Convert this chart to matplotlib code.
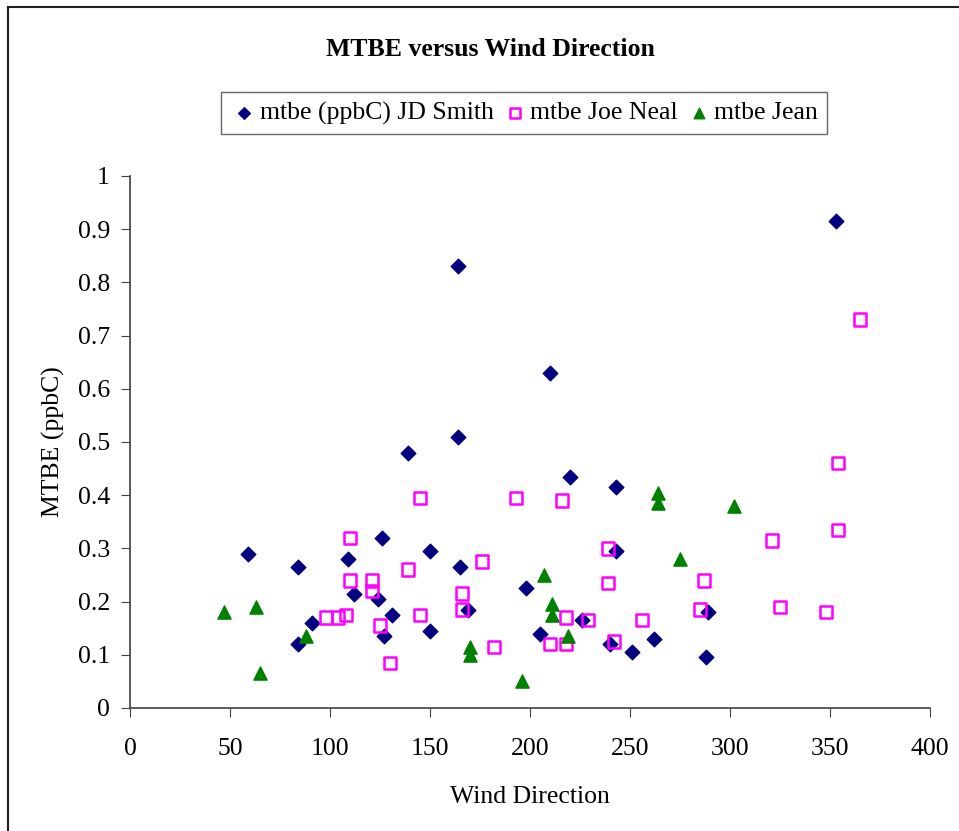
import numpy as np
import matplotlib
matplotlib.use('Agg')
import matplotlib.pyplot as plt
from matplotlib.lines import Line2D

# data
smith_dir = [59, 84, 84, 91, 109, 112, 124, 126, 127, 131, 139, 150, 150, 164, 164,
             165, 169, 198, 205, 210, 220, 226, 240, 243, 243, 251, 262, 288, 289, 353]
smith_mtbe = [0.29, 0.265, 0.12, 0.16, 0.28, 0.215, 0.205, 0.32, 0.135, 0.175, 0.48, 0.295, 0.145, 0.83, 0.51,
              0.265, 0.185, 0.225, 0.14, 0.63, 0.435, 0.165, 0.12, 0.415, 0.295, 0.105, 0.13, 0.095, 0.18, 0.915]

neal_dir = [98, 104, 108, 110, 110, 121, 121, 125, 130, 139, 145, 145, 166, 166, 176, 182, 193,
            210, 216, 218, 218, 229, 239, 239, 242, 256, 285, 287, 321, 325, 348, 354, 354, 365]
neal_mtbe = [0.17, 0.17, 0.175, 0.32, 0.24, 0.24, 0.22, 0.155, 0.085, 0.26, 0.395, 0.175, 0.215, 0.185, 0.275, 0.115, 0.395,
             0.12, 0.39, 0.17, 0.12, 0.165, 0.30, 0.235, 0.125, 0.165, 0.185, 0.24, 0.315, 0.19, 0.18, 0.46, 0.335, 0.73]

jean_dir = [47, 63, 65, 88, 170, 170, 196, 207, 211, 211, 219, 264, 264, 275, 302]
jean_mtbe = [0.18, 0.19, 0.065, 0.135, 0.115, 0.10, 0.05, 0.25, 0.195, 0.175, 0.135, 0.405, 0.385, 0.28, 0.38]

x_ticks = np.arange(0, 401, 50)
y_ticks = np.arange(0, 1.01, 0.1)
y_labels = ['0', '0.1', '0.2', '0.3', '0.4', '0.5', '0.6', '0.7', '0.8', '0.9', '1']

plt.rcParams['font.family'] = ['Liberation Serif', 'DejaVu Serif']

fig = plt.figure(figsize=(9.59, 8.31), dpi=100)
ax = fig.add_axes([130 / 959, 1 - 708 / 831, 800 / 959, 532 / 831])

ax.scatter(smith_dir, smith_mtbe, marker='D', s=55, color='#000080', label='mtbe (ppbC) JD Smith', zorder=3)
ax.scatter(neal_dir, neal_mtbe, marker='s', s=80, facecolors='none', edgecolors='#FF00FF', linewidths=1.8,
           label='mtbe Joe Neal', zorder=3)
ax.scatter(jean_dir, jean_mtbe, marker='^', s=90, color='#008000', label='mtbe Jean', zorder=3)

ax.set_xlim(0, 400)
ax.set_ylim(0, 1)
ax.set_xticks(x_ticks)
ax.set_yticks(y_ticks)
ax.set_yticklabels(y_labels)
ax.tick_params(labelsize=18.5, length=6.5, direction='out', color='#404040')
ax.tick_params(axis='x', pad=15)
ax.tick_params(axis='y', pad=8)
for s in ['top', 'right']:
    ax.spines[s].set_visible(False)
for s in ['left', 'bottom']:
    ax.spines[s].set_color('#404040')
    ax.spines[s].set_linewidth(1.2)

ax.set_xlabel('Wind Direction', fontsize=18.5, labelpad=19)
ax.set_ylabel('MTBE (ppbC)', fontsize=18.5, labelpad=9)

fig.text(490 / 959, 1 - 49 / 831, 'MTBE versus Wind Direction', fontsize=18.5, fontweight='bold',
         ha='center', va='center')

leg = fig.legend(loc='center', bbox_to_anchor=(524 / 959, 1 - 113 / 831), ncol=3, fontsize=18.5,
                 frameon=True, fancybox=False, edgecolor='#404040', handletextpad=0.05,
                 columnspacing=0.27, borderpad=0.35, handlelength=1.1, markerscale=0.8)
leg.get_frame().set_linewidth(1.0)

# figure border (left and top, as in the reference)
fig.add_artist(Line2D([8 / 959, 8 / 959], [0, 1 - 7 / 831], color='#202020', lw=1.5))
fig.add_artist(Line2D([8 / 959, 1], [1 - 7 / 831, 1 - 7 / 831], color='#202020', lw=1.5))

fig.savefig('out.png', dpi=100)
